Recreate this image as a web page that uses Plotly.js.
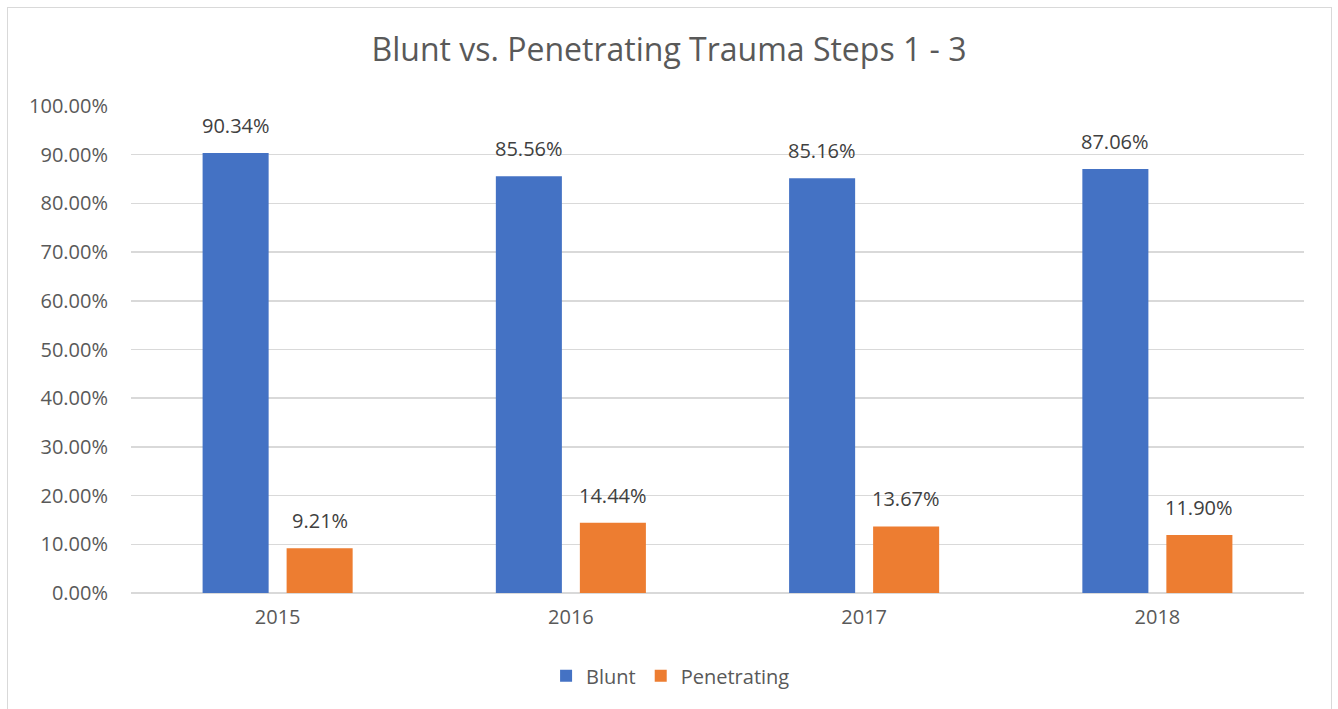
<!DOCTYPE html>
<html>
<head>
<meta charset="utf-8">
<script src="https://cdn.plot.ly/plotly-3.0.1.min.js"></script>
<style>
html,body{margin:0;padding:0;background:#fff;}
#chart{width:1338px;height:709px;}
#frame{position:absolute;left:7px;top:7px;width:1325px;height:720px;border:1px solid #d9d9d9;pointer-events:none;box-sizing:border-box;}
</style>
</head>
<body>
<div id="chart"></div>
<div id="frame"></div>
<script>
const years = ['2015', '2016', '2017', '2018'];
const blunt = [0.9034, 0.8556, 0.8516, 0.8706];
const penetrating = [0.0921, 0.1444, 0.1367, 0.1190];
const seriesNames = ['Blunt', 'Penetrating'];
const yTicks = [0, 0.1, 0.2, 0.3, 0.4, 0.5, 0.6, 0.7, 0.8, 0.9, 1.0];

const FONT = 'Open Sans, Noto Sans, sans-serif';
const labelColor = '#404040';

const traces = [
  {type: 'bar', name: seriesNames[0], x: years, y: blunt, marker: {color: '#4472C4'}, hoverinfo: 'none'},
  {type: 'bar', name: seriesNames[1], x: years, y: penetrating, marker: {color: '#ED7D31'}, hoverinfo: 'none'}
];

const annotations = [];
[blunt, penetrating].forEach((arr, si) => {
  arr.forEach((v, i) => {
    annotations.push({
      x: i, y: v, xref: 'x', yref: 'y',
      text: (v * 100).toFixed(2) + '%',
      showarrow: false, yanchor: 'bottom', xanchor: 'center',
      xshift: si === 0 ? -42 : 42, yshift: 12,
      font: {family: FONT, size: 20, color: labelColor}
    });
  });
});

const layout = {
  width: 1338, height: 709,
  margin: {l: 131, r: 34, t: 106, b: 116},
  paper_bgcolor: '#ffffff', plot_bgcolor: '#ffffff',
  title: {text: 'Blunt vs. Penetrating Trauma Steps 1 - 3', x: 0.5, xanchor: 'center', y: 0.93, yanchor: 'middle',
          font: {family: FONT, size: 32, color: '#595959'}},
  barmode: 'group', bargap: 0.427, bargroupgap: 0.214,
  xaxis: {type: 'category', categoryorder: 'array', categoryarray: years, range: [-0.5, years.length - 0.5],
          showgrid: false, showline: false, ticks: '', zeroline: false, ticklabelstandoff: 10,
          tickfont: {family: FONT, size: 20, color: '#595959'}},
  yaxis: {range: [0, 1.0], tickvals: yTicks, tickformat: '.2%', showgrid: true, gridcolor: '#d9d9d9', gridwidth: 1.5,
          zeroline: true, zerolinecolor: '#d9d9d9', zerolinewidth: 1.5, showline: false, ticks: '',
          ticklabelstandoff: 22,
          tickfont: {family: FONT, size: 20, color: '#595959'}},
  showlegend: true,
  legend: {orientation: 'h', x: 0.46, xanchor: 'center', y: -0.17, yanchor: 'middle',
           font: {family: FONT, size: 20, color: '#595959'}, traceorder: 'normal'},
  annotations: annotations
};

Plotly.newPlot('chart', traces, layout, {displayModeBar: false, staticPlot: true});
</script>
</body>
</html>
